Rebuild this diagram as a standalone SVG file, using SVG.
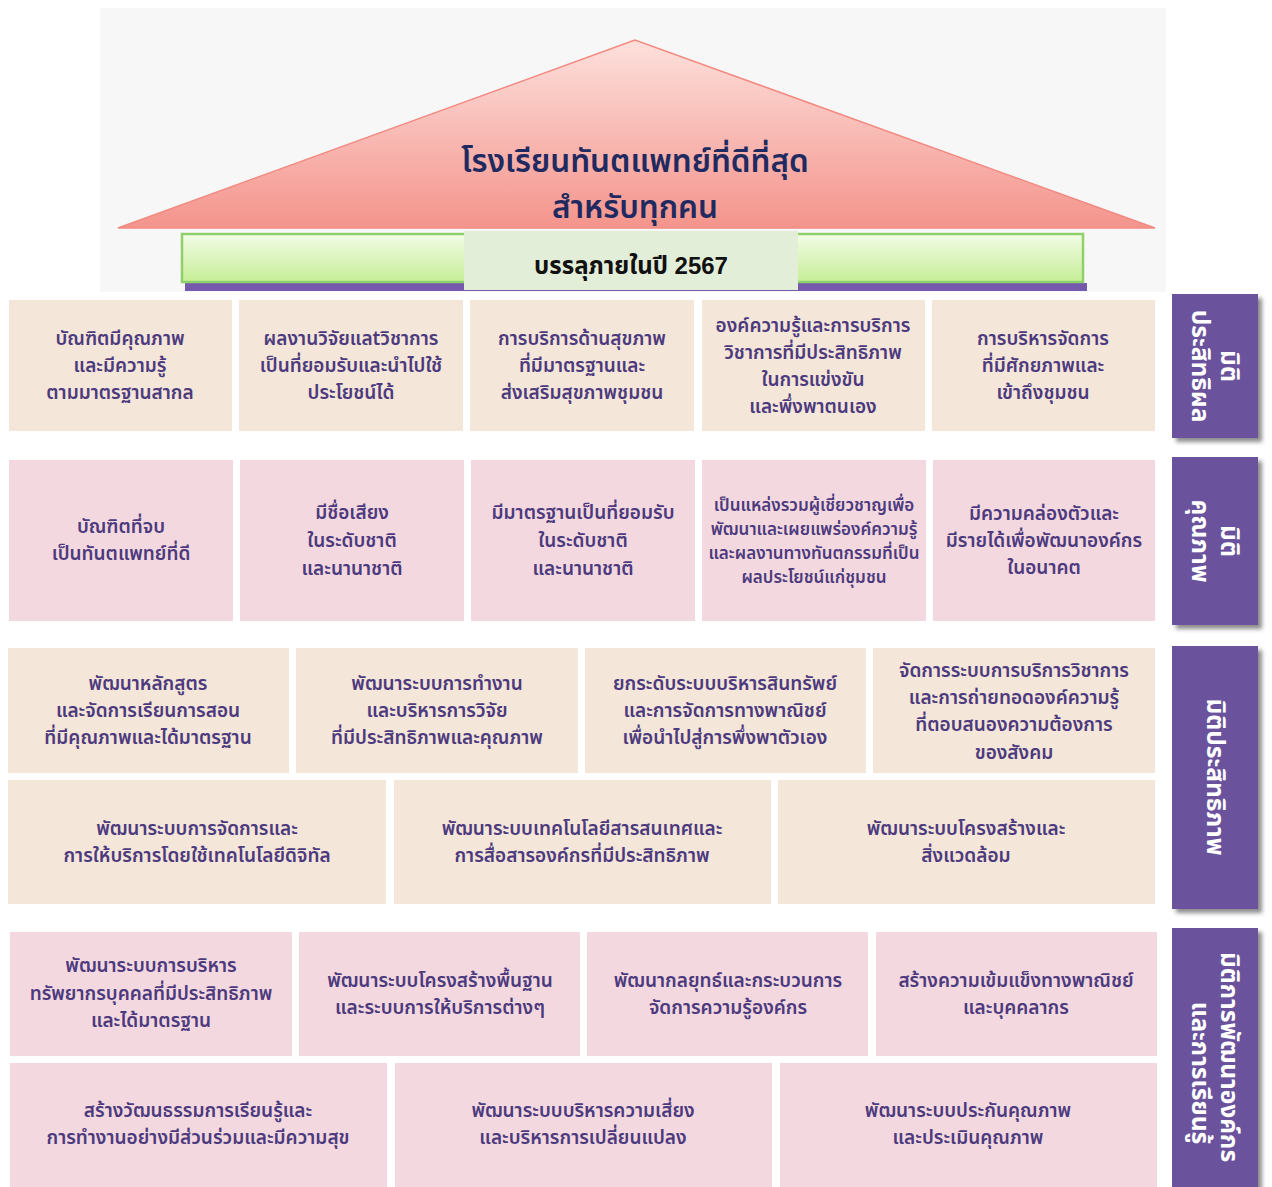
<svg xmlns="http://www.w3.org/2000/svg" width="1272" height="1187" viewBox="0 0 1272 1187">
<defs>
<linearGradient id="roof" x1="0" y1="0" x2="0" y2="1"><stop offset="0" stop-color="#fde0dc"/><stop offset="1" stop-color="#f4948c"/></linearGradient>
<linearGradient id="bar" x1="0" y1="0" x2="0" y2="1"><stop offset="0" stop-color="#f3fce6"/><stop offset="1" stop-color="#c6ee96"/></linearGradient>
<filter id="sh" x="-10%" y="-10%" width="130%" height="130%"><feDropShadow dx="4" dy="4" stdDeviation="2" flood-color="#000" flood-opacity="0.45"/></filter>
<style>
.b{fill:#f4e6d8}
.p{fill:#f3d9df}
.t{font-family:"Noto Sans Thai","Noto Sans","DejaVu Sans",sans-serif;font-size:19px;fill:#4d3a7e;text-anchor:middle;font-weight:600}
.s{font-size:17px}
.tab{fill:#6a529c}
.tt{font-family:"Noto Sans Thai","Noto Sans","DejaVu Sans",sans-serif;font-size:24.5px;fill:#ffffff;text-anchor:middle;font-weight:700}
.title{font-family:"Noto Sans Thai","Noto Sans","DejaVu Sans",sans-serif;font-size:31.5px;fill:#1e2a60;text-anchor:middle;font-weight:600}
</style>
</defs>
<rect width="1272" height="1187" fill="#ffffff"/>
<g id="top">
<rect x="100" y="8" width="1066" height="284" fill="#f7f7f7"/>
<polygon points="635,40 118,228 1155,228" fill="url(#roof)" stroke="#f28a82" stroke-width="1.5"/>
<text class="title" x="635" y="172">โรงเรียนทันตแพทย์ที่ดีที่สุด</text>
<text class="title" x="635" y="218">สำหรับทุกคน</text>
<rect x="185" y="283" width="902" height="8" fill="#7559ad"/>
<rect x="182" y="234" width="901" height="48" fill="url(#bar)" stroke="#8fd06a" stroke-width="2.5"/>
<rect x="464" y="231" width="334" height="59" fill="#e3eed9"/>
<text x="631" y="274" font-family="Liberation Sans, Noto Sans Thai, DejaVu Sans, sans-serif" font-size="24" font-weight="700" fill="#111" text-anchor="middle">บรรลุภายในปี 2567</text>
</g>
<g id="row1">
<g id="r1c1"><rect class="b" x="9" y="300" width="223" height="131"/><text class="t" x="120"><tspan x="120" y="345">บัณฑิตมีคุณภาพ</tspan><tspan x="120" y="372">และมีความรู้</tspan><tspan x="120" y="399">ตามมาตรฐานสากล</tspan></text></g>
<g id="r1c2"><rect class="b" x="239" y="300" width="224" height="131"/><text class="t"><tspan x="351" y="345">ผลงานวิจัยแลtวิชาการ</tspan><tspan x="351" y="372">เป็นที่ยอมรับและนำไปใช้</tspan><tspan x="351" y="399">ประโยชน์ได้</tspan></text></g>
<g id="r1c3"><rect class="b" x="470" y="300" width="224" height="131"/><text class="t"><tspan x="582" y="345">การบริการด้านสุขภาพ</tspan><tspan x="582" y="372">ที่มีมาตรฐานและ</tspan><tspan x="582" y="399">ส่งเสริมสุขภาพชุมชน</tspan></text></g>
<g id="r1c4"><rect class="b" x="702" y="300" width="223" height="131"/><text class="t"><tspan x="813" y="332">องค์ความรู้และการบริการ</tspan><tspan x="813" y="359">วิชาการที่มีประสิทธิภาพ</tspan><tspan x="813" y="386">ในการแข่งขัน</tspan><tspan x="813" y="413">และพึ่งพาตนเอง</tspan></text></g>
<g id="r1c5"><rect class="b" x="932" y="300" width="223" height="131"/><text class="t"><tspan x="1043" y="345">การบริหารจัดการ</tspan><tspan x="1043" y="372">ที่มีศักยภาพและ</tspan><tspan x="1043" y="399">เข้าถึงชุมชน</tspan></text></g>
</g>
<g id="row2">
<g id="r2c1"><rect class="p" x="9" y="460" width="224" height="161"/><text class="t"><tspan x="121" y="533">บัณฑิตที่จบ</tspan><tspan x="121" y="560">เป็นทันตแพทย์ที่ดี</tspan></text></g>
<g id="r2c2"><rect class="p" x="240" y="460" width="224" height="161"/><text class="t"><tspan x="352" y="519">มีชื่อเสียง</tspan><tspan x="352" y="547">ในระดับชาติ</tspan><tspan x="352" y="575">และนานาชาติ</tspan></text></g>
<g id="r2c3"><rect class="p" x="471" y="460" width="224" height="161"/><text class="t"><tspan x="583" y="519">มีมาตรฐานเป็นที่ยอมรับ</tspan><tspan x="583" y="547">ในระดับชาติ</tspan><tspan x="583" y="575">และนานาชาติ</tspan></text></g>
<g id="r2c4"><rect class="p" x="702" y="460" width="224" height="161"/><text class="t s"><tspan x="814" y="511">เป็นแหล่งรวมผู้เชี่ยวชาญเพื่อ</tspan><tspan x="814" y="535">พัฒนาและเผยแพร่องค์ความรู้</tspan><tspan x="814" y="559">และผลงานทางทันตกรรมที่เป็น</tspan><tspan x="814" y="583">ผลประโยชน์แก่ชุมชน</tspan></text></g>
<g id="r2c5"><rect class="p" x="933" y="460" width="222" height="161"/><text class="t"><tspan x="1044" y="520">มีความคล่องตัวและ</tspan><tspan x="1044" y="547">มีรายได้เพื่อพัฒนาองค์กร</tspan><tspan x="1044" y="574">ในอนาคต</tspan></text></g>
</g>
<g id="row3">
<g id="r3c1"><rect class="b" x="8" y="648" width="281" height="125"/><text class="t"><tspan x="148" y="690">พัฒนาหลักสูตร</tspan><tspan x="148" y="717">และจัดการเรียนการสอน</tspan><tspan x="148" y="744">ที่มีคุณภาพและได้มาตรฐาน</tspan></text></g>
<g id="r3c2"><rect class="b" x="296" y="648" width="282" height="125"/><text class="t"><tspan x="437" y="690">พัฒนาระบบการทำงาน</tspan><tspan x="437" y="717">และบริหารการวิจัย</tspan><tspan x="437" y="744">ที่มีประสิทธิภาพและคุณภาพ</tspan></text></g>
<g id="r3c3"><rect class="b" x="585" y="648" width="281" height="125"/><text class="t"><tspan x="725" y="690">ยกระดับระบบบริหารสินทรัพย์</tspan><tspan x="725" y="717">และการจัดการทางพาณิชย์</tspan><tspan x="725" y="744">เพื่อนำไปสู่การพึ่งพาตัวเอง</tspan></text></g>
<g id="r3c4"><rect class="b" x="873" y="648" width="282" height="125"/><text class="t"><tspan x="1014" y="677">จัดการระบบการบริการวิชาการ</tspan><tspan x="1014" y="704">และการถ่ายทอดองค์ความรู้</tspan><tspan x="1014" y="731">ที่ตอบสนองความต้องการ</tspan><tspan x="1014" y="759">ของสังคม</tspan></text></g>
<g id="r3c5"><rect class="b" x="8" y="780" width="378" height="124"/><text class="t"><tspan x="197" y="835">พัฒนาระบบการจัดการและ</tspan><tspan x="197" y="862">การให้บริการโดยใช้เทคโนโลยีดิจิทัล</tspan></text></g>
<g id="r3c6"><rect class="b" x="394" y="780" width="377" height="124"/><text class="t"><tspan x="582" y="835">พัฒนาระบบเทคโนโลยีสารสนเทศและ</tspan><tspan x="582" y="862">การสื่อสารองค์กรที่มีประสิทธิภาพ</tspan></text></g>
<g id="r3c7"><rect class="b" x="778" y="780" width="377" height="124"/><text class="t"><tspan x="966" y="835">พัฒนาระบบโครงสร้างและ</tspan><tspan x="966" y="862">สิ่งแวดล้อม</tspan></text></g>
</g>
<g id="row4">
<g id="r4c1"><rect class="p" x="10" y="932" width="282" height="124"/><text class="t"><tspan x="151" y="972">พัฒนาระบบการบริหาร</tspan><tspan x="151" y="1000">ทรัพยากรบุคคลที่มีประสิทธิภาพ</tspan><tspan x="151" y="1027">และได้มาตรฐาน</tspan></text></g>
<g id="r4c2"><rect class="p" x="299" y="932" width="281" height="124"/><text class="t"><tspan x="440" y="987">พัฒนาระบบโครงสร้างพื้นฐาน</tspan><tspan x="440" y="1014">และระบบการให้บริการต่างๆ</tspan></text></g>
<g id="r4c3"><rect class="p" x="587" y="932" width="281" height="124"/><text class="t"><tspan x="728" y="987">พัฒนากลยุทธ์และกระบวนการ</tspan><tspan x="728" y="1014">จัดการความรู้องค์กร</tspan></text></g>
<g id="r4c4"><rect class="p" x="876" y="932" width="281" height="124"/><text class="t"><tspan x="1016" y="987">สร้างความเข้มแข็งทางพาณิชย์</tspan><tspan x="1016" y="1014">และบุคคลากร</tspan></text></g>
<g id="r4c5"><rect class="p" x="10" y="1063" width="377" height="124"/><text class="t"><tspan x="198" y="1117">สร้างวัฒนธรรมการเรียนรู้และ</tspan><tspan x="198" y="1144">การทำงานอย่างมีส่วนร่วมและมีความสุข</tspan></text></g>
<g id="r4c6"><rect class="p" x="395" y="1063" width="377" height="124"/><text class="t"><tspan x="583" y="1117">พัฒนาระบบบริหารความเสี่ยง</tspan><tspan x="583" y="1144">และบริหารการเปลี่ยนแปลง</tspan></text></g>
<g id="r4c7"><rect class="p" x="780" y="1063" width="377" height="124"/><text class="t"><tspan x="968" y="1117">พัฒนาระบบประกันคุณภาพ</tspan><tspan x="968" y="1144">และประเมินคุณภาพ</tspan></text></g>
</g>
<g id="tabs">
<g id="tab1"><rect class="tab" x="1172" y="294" width="86" height="144" filter="url(#sh)"/><g transform="translate(1215,366) rotate(90)"><text class="tt"><tspan x="0" y="-6">มิติ</tspan><tspan x="0" y="23">ประสิทธิผล</tspan></text></g></g>
<g id="tab2"><rect class="tab" x="1172" y="457" width="86" height="168" filter="url(#sh)"/><g transform="translate(1215,541) rotate(90)"><text class="tt"><tspan x="0" y="-6">มิติ</tspan><tspan x="0" y="23">คุณภาพ</tspan></text></g></g>
<g id="tab3"><rect class="tab" x="1172" y="646" width="86" height="263" filter="url(#sh)"/><g transform="translate(1215,777) rotate(90)"><text class="tt"><tspan x="0" y="8">มิติประสิทธิภาพ</tspan></text></g></g>
<g id="tab4"><rect class="tab" x="1172" y="928" width="86" height="265" filter="url(#sh)"/><g transform="translate(1215,1057) rotate(90)"><text class="tt"><tspan x="0" y="-6">มิติการพัฒนาองค์กร</tspan><tspan x="16" y="23">และการเรียนรู้</tspan></text></g></g>
</g>
</svg>
